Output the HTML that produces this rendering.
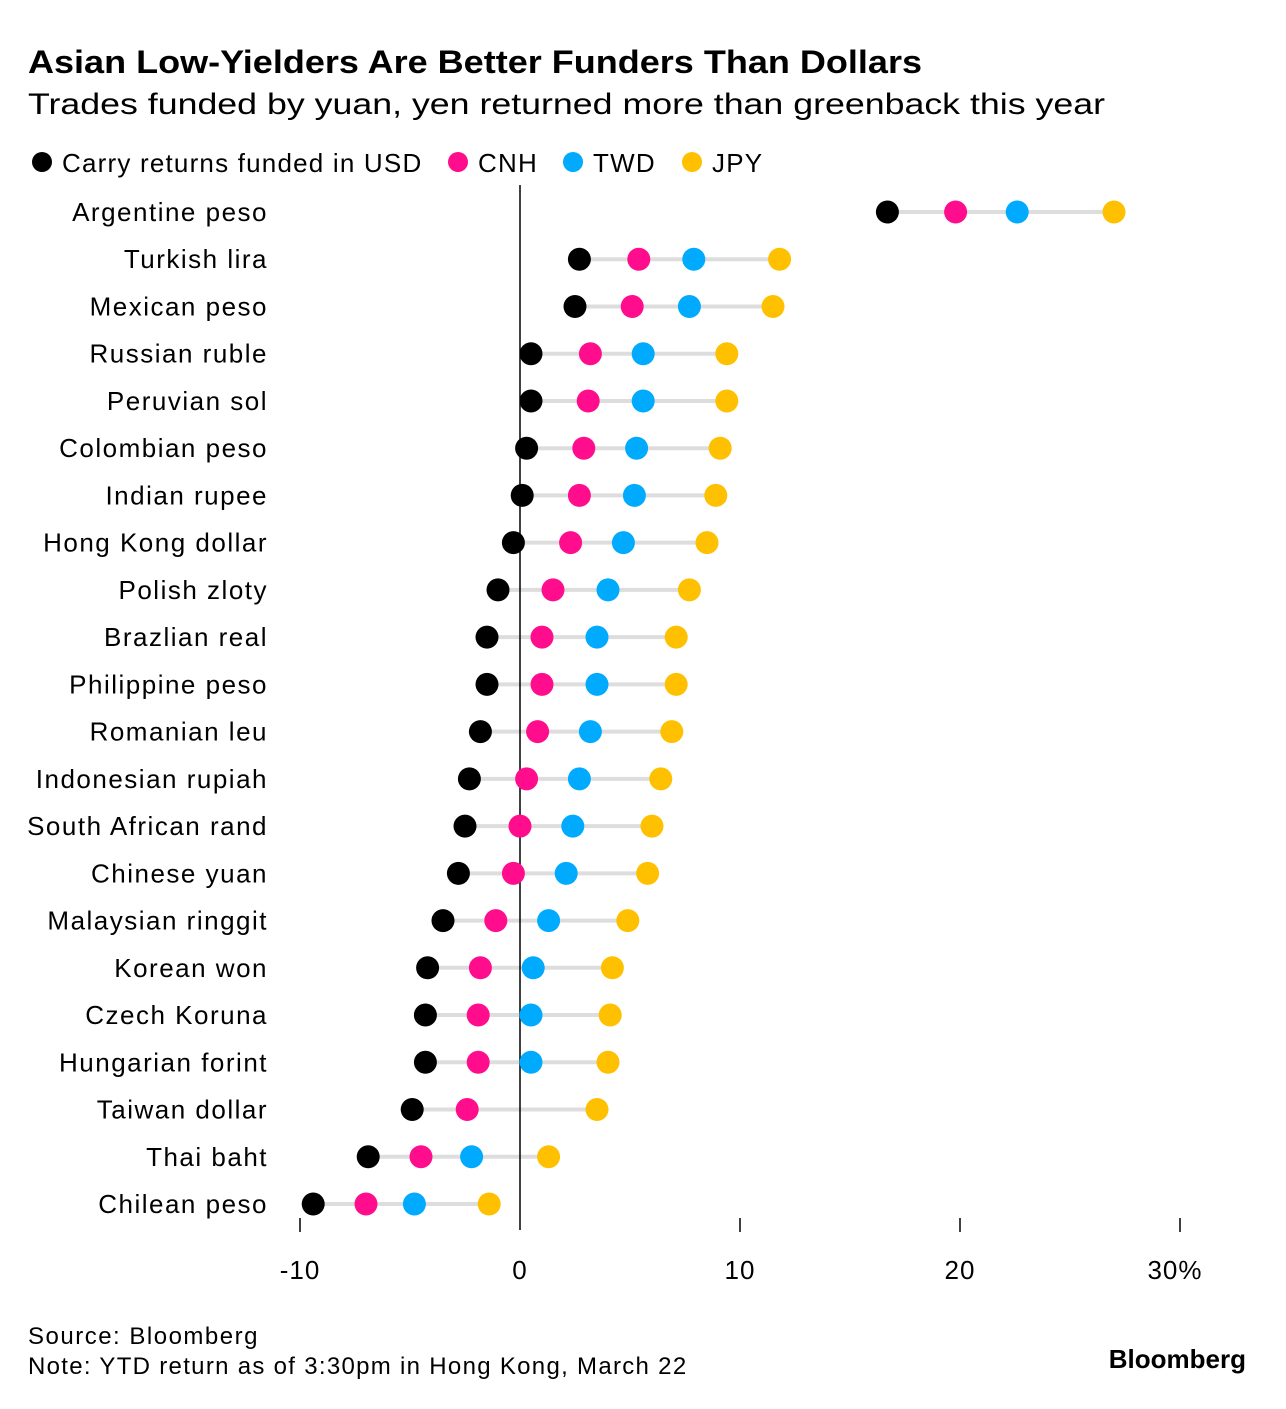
<!DOCTYPE html>
<html><head><meta charset="utf-8"><style>
body{margin:0;background:#fff;font-family:"Liberation Sans",sans-serif;}
svg text{font-family:"Liberation Sans",sans-serif;}
</style></head><body>
<svg id="chart" width="1286" height="1404">
<text x="28" y="73" font-size="32" font-weight="bold" fill="#000" textLength="894" lengthAdjust="spacingAndGlyphs">Asian Low-Yielders Are Better Funders Than Dollars</text>
<text x="28" y="114" font-size="30" fill="#000" textLength="1077" lengthAdjust="spacingAndGlyphs">Trades funded by yuan, yen returned more than greenback this year</text>
<g letter-spacing="1.2">
<circle cx="42" cy="162" r="10" fill="#000"/>
<text x="62" y="172" font-size="26">Carry returns funded in USD</text>
<circle cx="458" cy="162" r="10" fill="#ff0d8c"/>
<text x="478" y="172" font-size="26">CNH</text>
<circle cx="573" cy="162" r="10" fill="#00aaff"/>
<text x="593" y="172" font-size="26">TWD</text>
<circle cx="692" cy="162" r="10" fill="#ffc000"/>
<text x="712" y="172" font-size="26">JPY</text>
</g>
<g id="plot"></g>
<text x="28" y="1344" font-size="24" letter-spacing="1.5">Source: Bloomberg</text>
<text x="28" y="1374" font-size="24" letter-spacing="1.3">Note: YTD return as of 3:30pm in Hong Kong, March 22</text>
<text x="1246" y="1368" font-size="26" font-weight="bold" text-anchor="end">Bloomberg</text>
</svg>
<script>
const categories=["Argentine peso","Turkish lira","Mexican peso","Russian ruble","Peruvian sol","Colombian peso","Indian rupee","Hong Kong dollar","Polish zloty","Brazlian real","Philippine peso","Romanian leu","Indonesian rupiah","South African rand","Chinese yuan","Malaysian ringgit","Korean won","Czech Koruna","Hungarian forint","Taiwan dollar","Thai baht","Chilean peso"];
const usd=[16.7,2.7,2.5,0.5,0.5,0.3,0.1,-0.3,-1.0,-1.5,-1.5,-1.8,-2.3,-2.5,-2.8,-3.5,-4.2,-4.3,-4.3,-4.9,-6.9,-9.4];
const cnh=[19.8,5.4,5.1,3.2,3.1,2.9,2.7,2.3,1.5,1.0,1.0,0.8,0.3,0.0,-0.3,-1.1,-1.8,-1.9,-1.9,-2.4,-4.5,-7.0];
const twd=[22.6,7.9,7.7,5.6,5.6,5.3,5.2,4.7,4.0,3.5,3.5,3.2,2.7,2.4,2.1,1.3,0.6,0.5,0.5,null,-2.2,-4.8];
const jpy=[27.0,11.8,11.5,9.4,9.4,9.1,8.9,8.5,7.7,7.1,7.1,6.9,6.4,6.0,5.8,4.9,4.2,4.1,4.0,3.5,1.3,-1.4];
const ticks=[-10,0,10,20,30];
const tickLabels=["-10","0","10","20","30%"];
const NS="http://www.w3.org/2000/svg";
const g=document.getElementById('plot');
const xs=v=>520+v*22;
const ys=i=>212+i*(1204-212)/(categories.length-1);
function mk(tag,attrs){const e=document.createElementNS(NS,tag);for(const k in attrs)e.setAttribute(k,attrs[k]);g.appendChild(e);return e;}
categories.forEach((c,i)=>{
  const vals=[usd[i],cnh[i],twd[i],jpy[i]].filter(v=>v!==null);
  const ln=mk('line',{x1:xs(Math.min(...vals)),x2:xs(Math.max(...vals)),y1:ys(i),y2:ys(i),stroke:'#dddddd','stroke-width':4});
  
  
  const t=mk('text',{x:268,y:ys(i)+9,'font-size':26,'text-anchor':'end','letter-spacing':1.5});
  t.textContent=c;
  
  
});
const zl=mk('line',{x1:xs(0),x2:xs(0),y1:185,y2:1230,stroke:'#000','stroke-width':1.5});


const series=[[usd,'#000','usd'],[cnh,'#ff0d8c','cnh'],[twd,'#00aaff','twd'],[jpy,'#ffc000','jpy']];
series.forEach(([arr,col,nm])=>{
  arr.forEach((v,i)=>{
    if(v===null)return;
    const c=mk('circle',{cx:xs(v),cy:ys(i),r:11.5,fill:col});
    
    
  });
});
ticks.forEach((v,i)=>{
  if(v!==0){
    const tk=mk('line',{x1:xs(v),x2:xs(v),y1:1218,y2:1232,stroke:'#000','stroke-width':1.5});
    
    
  }
  const t=mk('text',{x:xs(v)+(i===ticks.length-1?-5:0),y:1279,'font-size':26,'text-anchor':'middle','letter-spacing':1});
  t.textContent=tickLabels[i];
  
  
});
</script>
</body></html>
